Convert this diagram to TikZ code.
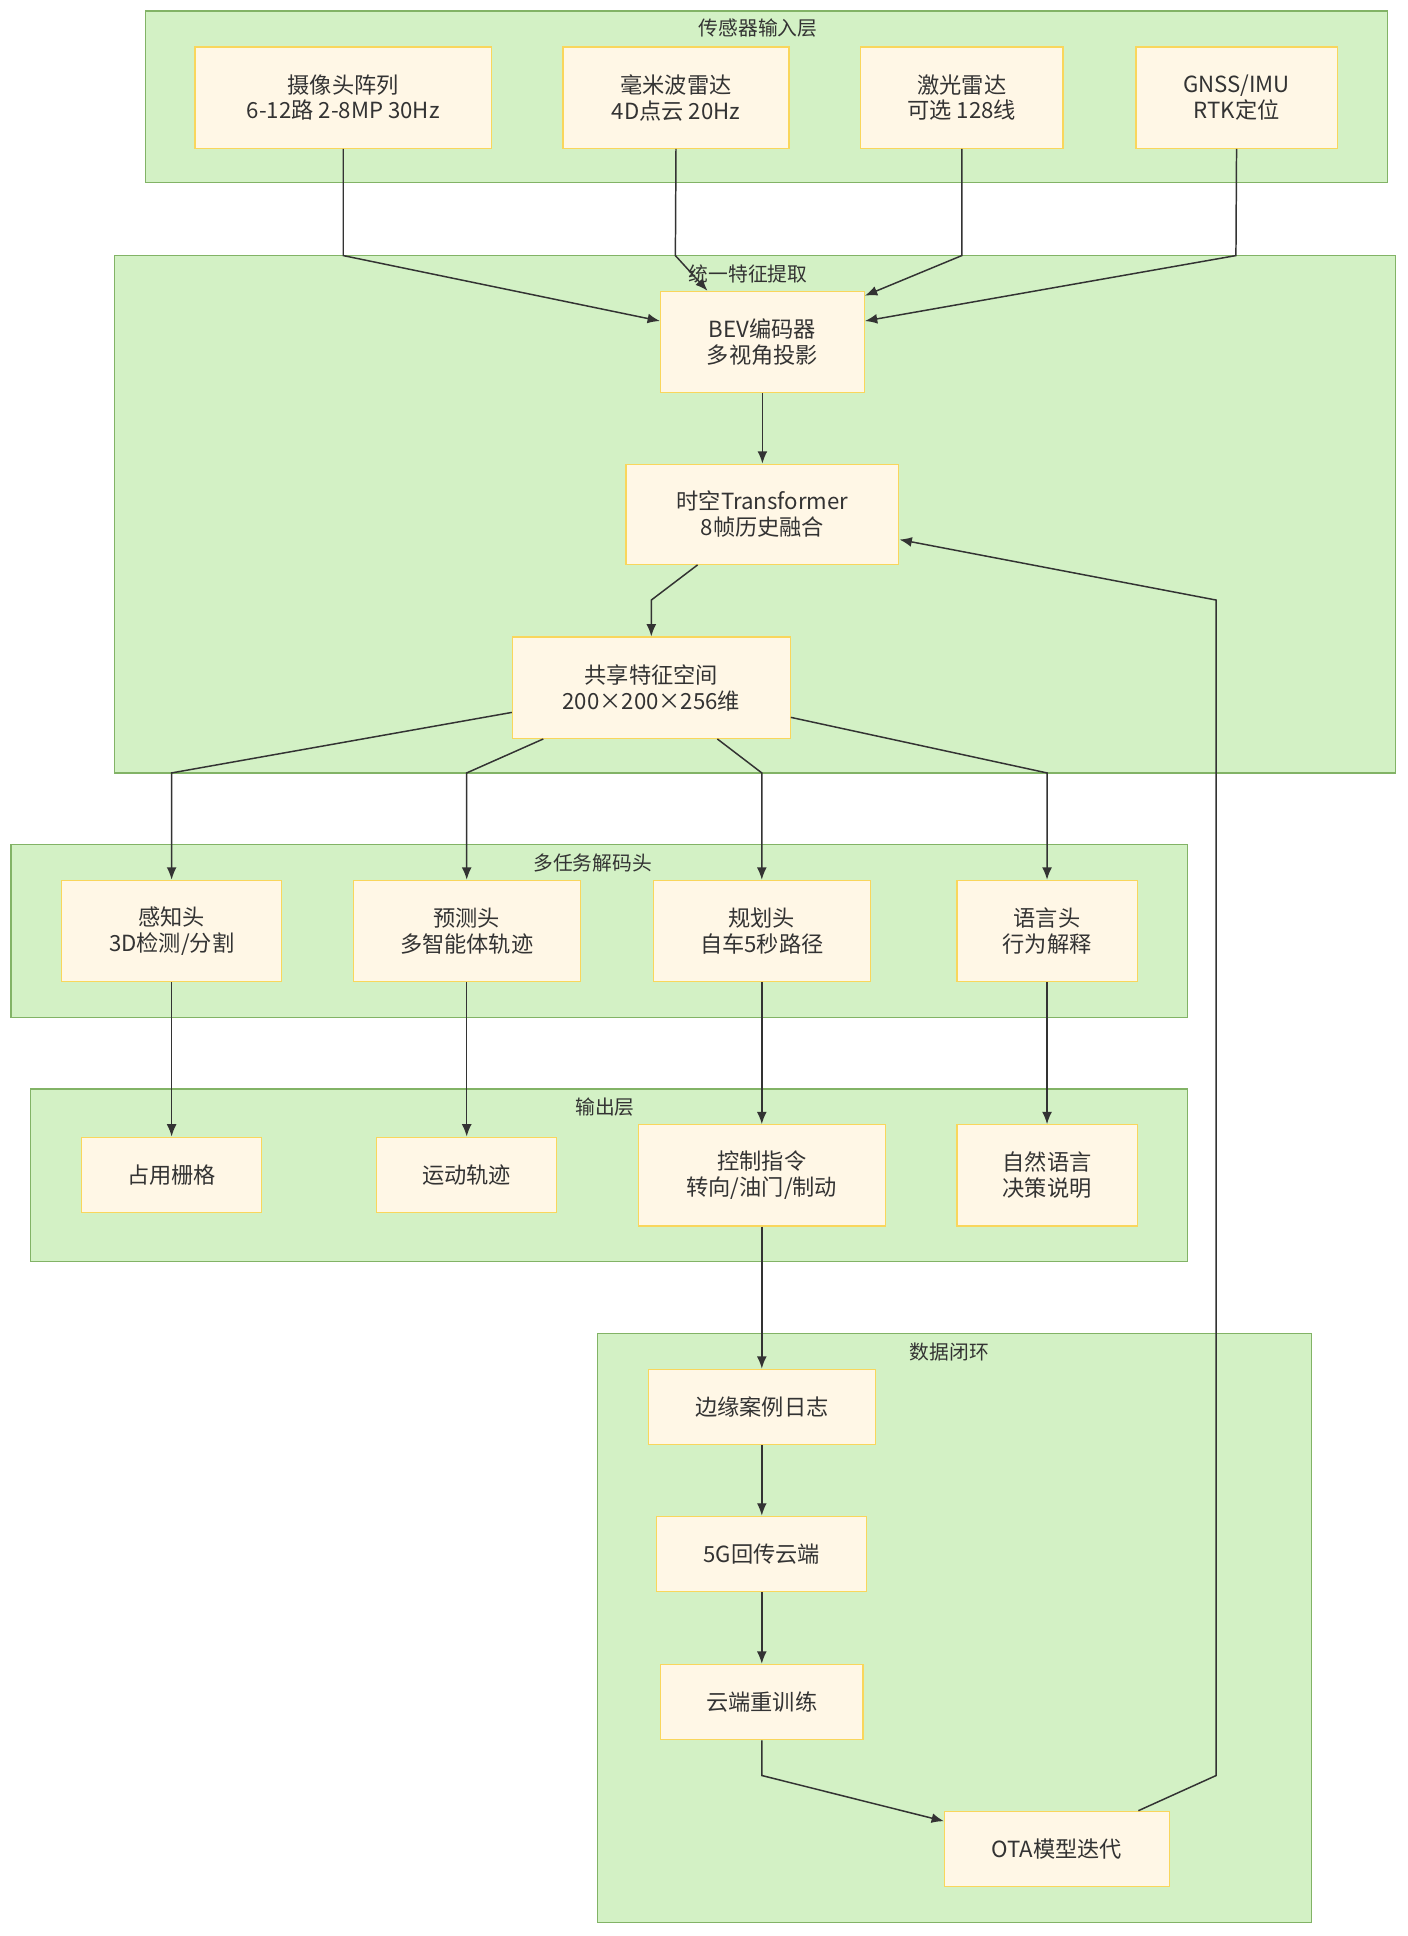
\documentclass[tikz,border=0pt]{standalone}
\usepackage{fontspec}
\setmainfont{Noto Sans CJK SC}
\usetikzlibrary{arrows.meta,calc}
\definecolor{clfill}{HTML}{D3F1C5}
\definecolor{cldraw}{HTML}{82B366}
\definecolor{ndfill}{HTML}{FFF7E6}
\definecolor{nddraw}{HTML}{F9D65C}
\definecolor{txt}{HTML}{333333}
\tikzset{
  cluster/.style={draw=cldraw, fill=clfill, line width=1pt, inner sep=0pt},
  cltitle/.style={text=txt, font=\fontsize{16}{19}\selectfont, inner sep=0pt},
  box/.style={draw=nddraw, fill=ndfill, line width=1pt, inner sep=0pt, align=center,
    text=txt, font=\fontsize{18}{21}\selectfont},
  arr/.style={draw=txt, line width=1.2pt, -{Latex[length=10pt,width=8pt]}}
}
\begin{document}
\begin{tikzpicture}[x=1pt,y=-1pt]
\useasboundingbox[fill=white] (0,0) rectangle (1140,1568);
% clusters
\node[cluster, minimum width=1006pt, minimum height=139pt] (c1) at (621,78.5) {};
\node[cltitle] (t1) at (614,23) {传感器输入层};
\node[cluster, minimum width=1037pt, minimum height=419pt] (c2) at (611.5,416.5) {};
\node[cltitle] (t2) at (606,222) {统一特征提取};
\node[cluster, minimum width=953pt, minimum height=140pt] (c3) at (485.5,754) {};
\node[cltitle] (t3) at (480,699) {多任务解码头};
\node[cluster, minimum width=937pt, minimum height=140pt] (c4) at (493.5,952) {};
\node[cltitle] (t4) at (490,897) {输出层};
\node[cluster, minimum width=578pt, minimum height=477pt] (c5) at (773,1318.5) {};
\node[cltitle] (t5) at (769,1095) {数据闭环};
% sensor nodes
\node[box, minimum width=240pt, minimum height=82pt] (cam) at (278,79) {摄像头阵列\\6-12路 2-8MP 30Hz};
\node[box, minimum width=183pt, minimum height=82pt] (radar) at (547.5,79) {毫米波雷达\\4D点云 20Hz};
\node[box, minimum width=164pt, minimum height=82pt] (lidar) at (779,79) {激光雷达\\可选 128线};
\node[box, minimum width=163pt, minimum height=82pt] (gnss) at (1001.5,79) {GNSS/IMU\\RTK定位};
% feature
\node[box, minimum width=165pt, minimum height=82pt] (bev) at (617.5,277) {BEV编码器\\多视角投影};
\node[box, minimum width=221pt, minimum height=81pt] (trans) at (617.5,416.5) {时空Transformer\\8帧历史融合};
\node[box, minimum width=225pt, minimum height=82pt] (shared) at (527.5,557) {共享特征空间\\200×200×256维};
% heads
\node[box, minimum width=178pt, minimum height=82pt] (perc) at (139,754) {感知头\\3D检测/分割};
\node[box, minimum width=184pt, minimum height=82pt] (pred) at (378,754) {预测头\\多智能体轨迹};
\node[box, minimum width=176pt, minimum height=82pt] (plan) at (617,754) {规划头\\自车5秒路径};
\node[box, minimum width=146pt, minimum height=82pt] (lang) at (848,754) {语言头\\行为解释};
% outputs
\node[box, minimum width=146pt, minimum height=61pt] (occ) at (139,951.5) {占用栅格};
\node[box, minimum width=146pt, minimum height=61pt] (traj) at (378,951.5) {运动轨迹};
\node[box, minimum width=200pt, minimum height=82pt] (ctrl) at (617,952) {控制指令\\转向/油门/制动};
\node[box, minimum width=146pt, minimum height=82pt] (nl) at (848,952) {自然语言\\决策说明};
% loop
\node[box, minimum width=184pt, minimum height=61pt] (edge) at (617,1139.5) {边缘案例日志};
\node[box, minimum width=170pt, minimum height=61pt] (g5) at (617,1258.5) {5G回传云端};
\node[box, minimum width=164pt, minimum height=61pt] (retrain) at (617,1378.5) {云端重训练};
\node[box, minimum width=182pt, minimum height=61pt] (ota) at (856,1497.5) {OTA模型迭代};
% edges
\draw[arr] (cam.south) -- (278,207) -- ([yshift=17pt]bev.west);
\draw[arr] (radar.south) -- (547,207) -- ([xshift=-44.5pt]bev.north);
\draw[arr] (lidar.south) -- (779,207) -- ([yshift=-4pt]bev.north east);
\draw[arr] (gnss.south) -- (1001,207) -- ([yshift=17pt]bev.east);
\draw[arr] (bev.south) -- (trans.north);
\draw[arr] ([xshift=-52.5pt]trans.south) -- (527.5,486) -- (shared.north);
\draw[arr] ([yshift=-20pt]shared.west) -- (139,626) -- (perc.north);
\draw[arr] ([xshift=-87.5pt]shared.south) -- (378,626) -- (pred.north);
\draw[arr] ([xshift=53.5pt]shared.south) -- (617,626) -- (plan.north);
\draw[arr] ([yshift=-24pt]shared.east) -- (848,626) -- (lang.north);
\draw[arr] (perc.south) -- (occ.north);
\draw[arr] (pred.south) -- (traj.north);
\draw[arr] (plan.south) -- (ctrl.north);
\draw[arr] (lang.south) -- (nl.north);
\draw[arr] (ctrl.south) -- (edge.north);
\draw[arr] (edge.south) -- (g5.north);
\draw[arr] (g5.south) -- (retrain.north);
\draw[arr] (retrain.south) -- (617,1438) -- ([yshift=22.5pt]ota.west);
\draw[arr] ([xshift=66pt]ota.north) -- (985,1438) -- (985,486) -- ([yshift=-20.5pt]trans.east);
\end{tikzpicture}
\end{document}
